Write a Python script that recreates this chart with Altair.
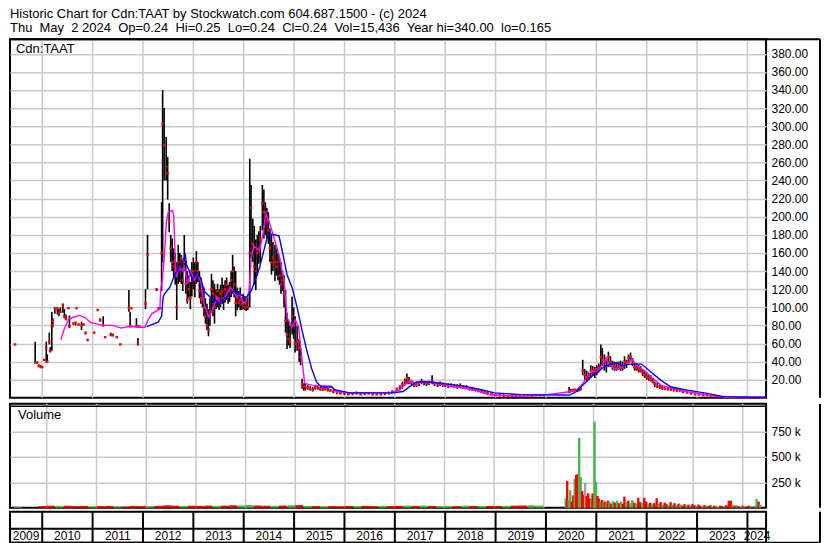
import altair as alt
import pandas as pd

HEADER = [
    "Historic Chart for Cdn:TAAT by Stockwatch.com 604.687.1500 - (c) 2024",
    "Thu  May  2 2024  Op=0.24  Hi=0.25  Lo=0.24  Cl=0.24  Vol=15,436  Year hi=340.00  lo=0.165",
]
SYMBOL = "Cdn:TAAT"
VOL_LABEL = "Volume"

YEAR_LINES = [2010, 2011, 2012, 2013, 2014, 2015, 2016, 2017, 2018, 2019, 2020, 2021, 2022, 2023, 2024]
YEAR_LABELS = ["2009", "2010", "2011", "2012", "2013", "2014", "2015", "2016", "2017", "2018",
               "2019", "2020", "2021", "2022", "2023", "2024"]
YEAR_LABEL_POS = [2009.68, 2010.5, 2011.5, 2012.5, 2013.5, 2014.5, 2015.5, 2016.5, 2017.5, 2018.5,
                  2019.5, 2020.5, 2021.5, 2022.5, 2023.5, 2024.19]
PRICE_TICKS = [20, 40, 60, 80, 100, 120, 140, 160, 180, 200, 220, 240, 260, 280, 300, 320, 340, 360, 380]
VOL_TICKS = [250000, 500000, 750000]

# (year, high, low, close)
bars_2009_2011 = [
    (2009.46, 59, 59, 59), (2009.86, 62, 39, 39), (2009.90, 40, 38, 39), (2009.93, 37, 35, 35),
    (2009.97, 36, 33, 34), (2010.00, 35, 33, 34), (2010.04, 43, 41, 42), (2010.08, 62, 39, 55),
    (2010.10, 48, 40, 40), (2010.14, 72, 59, 62), (2010.16, 56, 50, 52), (2010.19, 95, 52, 80),
    (2010.21, 88, 78, 85), (2010.25, 99, 93, 99), (2010.30, 98, 92, 99), (2010.33, 98, 90, 93),
    (2010.36, 100, 94, 95), (2010.41, 103, 94, 103), (2010.44, 98, 88, 90), (2010.47, 92, 86, 87),
    (2010.52, 99, 99, 99), (2010.54, 91, 77, 79), (2010.62, 83, 81, 82), (2010.66, 84, 80, 83),
    (2010.68, 99, 99, 99), (2010.72, 82, 80, 81), (2010.78, 84, 75, 80), (2010.82, 82, 80, 81),
    (2010.86, 72, 70, 72), (2010.90, 65, 63, 64), (2011.03, 72, 71, 72), (2011.10, 97, 97, 97),
    (2011.15, 88, 84, 86), (2011.21, 90, 79, 80), (2011.25, 67, 66, 67), (2011.36, 72, 68, 70),
    (2011.40, 71, 69, 69), (2011.48, 67, 66, 67), (2011.55, 59, 59, 59), (2011.72, 119, 95, 99),
    (2011.745, 95, 79, 79), (2011.77, 99, 99, 99), (2011.87, 88, 79, 79), (2011.90, 66, 59, 59),
    (2011.93, 79, 79, 79), (2012.05, 120, 98, 104), (2012.09, 180, 120, 158), (2012.27, 120, 118, 120),
    (2012.31, 99, 99, 99), (2012.34, 100, 98, 99),
]
bars_2012_2015 = [
    (2012.37, 216, 118, 160), (2012.39, 340, 150, 303), (2012.42, 320, 240, 279), (2012.46, 288, 240, 255),
    (2012.49, 266, 219, 248), (2012.52, 215, 183, 195), (2012.55, 180, 150, 165), (2012.58, 176, 140, 150),
    (2012.61, 165, 133, 145), (2012.64, 160, 125, 140), (2012.67, 150, 86, 100), (2012.70, 169, 126, 150),
    (2012.73, 160, 128, 145), (2012.76, 158, 126, 154), (2012.79, 150, 118, 130), (2012.82, 180, 140, 150),
    (2012.85, 151, 115, 126), (2012.88, 140, 104, 108), (2012.91, 135, 110, 120), (2012.94, 128, 98, 110),
    (2012.97, 150, 112, 135), (2013.00, 155, 120, 140), (2013.03, 150, 111, 130), (2013.06, 162, 126, 150),
    (2013.09, 150, 128, 140), (2013.12, 140, 110, 118), (2013.15, 132, 104, 110), (2013.18, 125, 100, 108),
    (2013.21, 122, 90, 100), (2013.24, 110, 82, 90), (2013.27, 104, 75, 80), (2013.30, 98, 68, 75),
    (2013.33, 110, 80, 95), (2013.36, 137, 95, 120), (2013.39, 130, 90, 115), (2013.42, 126, 82, 100),
    (2013.45, 120, 98, 112), (2013.48, 126, 100, 118), (2013.51, 120, 97, 110), (2013.54, 125, 100, 115),
    (2013.57, 133, 104, 118), (2013.60, 125, 97, 110), (2013.63, 130, 105, 120), (2013.66, 133, 108, 125),
    (2013.69, 125, 104, 112), (2013.72, 128, 106, 118), (2013.75, 140, 111, 130), (2013.78, 158, 115, 140),
    (2013.81, 145, 111, 125), (2013.84, 140, 90, 105), (2013.87, 122, 97, 110), (2013.90, 118, 100, 105),
    (2013.93, 122, 97, 108), (2013.96, 111, 97, 103), (2013.99, 115, 98, 105), (2014.02, 111, 97, 100),
    (2014.05, 110, 96, 104), (2014.08, 112, 97, 100), (2014.12, 264, 100, 160), (2014.145, 235, 155, 210),
    (2014.18, 198, 150, 170), (2014.21, 190, 125, 145), (2014.24, 175, 119, 140), (2014.27, 180, 135, 160),
    (2014.30, 184, 148, 165), (2014.33, 190, 150, 175), (2014.37, 235, 185, 215), (2014.40, 230, 176, 205),
    (2014.43, 216, 180, 205), (2014.46, 210, 176, 195), (2014.49, 205, 170, 185), (2014.52, 187, 150, 165),
    (2014.55, 180, 136, 150), (2014.58, 172, 140, 155), (2014.62, 169, 129, 150), (2014.65, 165, 135, 145),
    (2014.68, 160, 130, 150), (2014.71, 155, 125, 135), (2014.74, 150, 115, 125), (2014.77, 140, 118, 130),
    (2014.80, 135, 100, 115), (2014.83, 119, 72, 85), (2014.86, 94, 54, 70), (2014.89, 85, 58, 65),
    (2014.92, 80, 55, 62), (2014.96, 112, 70, 90), (2014.99, 100, 65, 80), (2015.02, 90, 50, 60),
    (2015.06, 80, 52, 62), (2015.10, 65, 40, 55), (2015.13, 55, 36, 45), (2015.16, 21, 10, 15),
    (2015.19, 16, 8, 12),
]
bars_2015_2019 = [
    (2015.22, 16, 8, 12), (2015.27, 14, 9, 11), (2015.32, 13, 8, 10), (2015.37, 12, 7, 9),
    (2015.42, 14, 9, 12), (2015.47, 13, 9, 11), (2015.52, 12, 8, 10), (2015.57, 11, 8, 9),
    (2015.62, 12, 8, 10), (2015.67, 11, 7, 9), (2015.72, 10, 7, 8), (2015.78, 9, 5, 7),
    (2015.85, 8, 4, 6), (2015.92, 7, 4, 5), (2016.00, 7, 3, 5), (2016.08, 6, 3, 4),
    (2016.16, 6, 3, 5), (2016.24, 7, 4, 5), (2016.32, 6, 3, 4), (2016.40, 6, 3, 5),
    (2016.48, 6, 4, 5), (2016.56, 6, 3, 4), (2016.64, 5, 3, 4), (2016.72, 6, 3, 4),
    (2016.80, 6, 3, 5), (2016.88, 7, 4, 5), (2016.95, 8, 5, 7), (2017.04, 11, 7, 10),
    (2017.10, 14, 8, 12), (2017.15, 18, 10, 15), (2017.20, 21, 14, 18), (2017.24, 27, 15, 22),
    (2017.28, 23, 15, 19), (2017.33, 20, 14, 17), (2017.38, 17, 12, 14), (2017.43, 17, 12, 15),
    (2017.48, 18, 13, 16), (2017.53, 21, 15, 18), (2017.58, 19, 14, 17), (2017.63, 18, 13, 16),
    (2017.68, 19, 14, 17), (2017.74, 25, 15, 19), (2017.79, 18, 13, 16), (2017.85, 17, 12, 15),
    (2017.90, 18, 13, 16), (2017.95, 17, 12, 15), (2018.00, 16, 12, 14), (2018.06, 16, 11, 14),
    (2018.12, 16, 12, 14), (2018.18, 15, 11, 13), (2018.24, 15, 10, 13), (2018.30, 16, 11, 13),
    (2018.36, 14, 10, 12), (2018.42, 14, 10, 12), (2018.48, 12, 8, 10), (2018.54, 12, 8, 9),
    (2018.60, 11, 7, 9), (2018.66, 10, 6, 8), (2018.72, 9, 6, 7), (2018.78, 8, 5, 6),
    (2018.84, 7, 4, 5), (2018.92, 6, 3, 4), (2019.00, 5, 2, 3), (2019.08, 4, 2, 3),
    (2019.16, 4, 1, 2), (2019.24, 3, 1, 2), (2019.32, 4, 1, 2), (2019.40, 3, 1, 2),
    (2019.48, 4, 2, 3), (2019.56, 3, 2, 3), (2019.64, 4, 2, 3), (2019.72, 3, 2, 2),
    (2019.80, 4, 2, 3), (2019.88, 3, 2, 3), (2019.96, 4, 2, 3),
]
bars_2020_2024 = [
    (2020.46, 12, 5, 8), (2020.49, 10, 6, 8), (2020.53, 10, 7, 8), (2020.57, 10, 7, 9),
    (2020.61, 9, 7, 8), (2020.65, 10, 7, 9), (2020.69, 11, 8, 10), (2020.73, 42, 25, 30),
    (2020.77, 32, 20, 25), (2020.81, 30, 18, 22), (2020.85, 28, 20, 24), (2020.89, 36, 22, 30),
    (2020.93, 35, 24, 28), (2020.97, 34, 22, 30), (2021.01, 36, 25, 32), (2021.05, 38, 28, 33),
    (2021.09, 59, 32, 45), (2021.12, 55, 35, 42), (2021.16, 48, 30, 40), (2021.20, 44, 28, 35),
    (2021.24, 51, 34, 45), (2021.28, 46, 34, 40), (2021.32, 41, 31, 36), (2021.36, 40, 30, 35),
    (2021.40, 39, 30, 33), (2021.44, 40, 31, 35), (2021.48, 41, 30, 34), (2021.52, 40, 30, 33),
    (2021.56, 46, 32, 40), (2021.60, 42, 33, 38), (2021.64, 48, 38, 44), (2021.68, 50, 40, 45),
    (2021.72, 44, 35, 38), (2021.76, 39, 30, 34), (2021.80, 38, 30, 33), (2021.84, 37, 28, 32),
    (2021.88, 35, 28, 30), (2021.92, 32, 24, 28), (2021.96, 30, 22, 25), (2022.00, 28, 20, 23),
    (2022.04, 26, 19, 22), (2022.08, 25, 18, 20), (2022.12, 22, 16, 18), (2022.16, 18, 12, 15),
    (2022.21, 17, 11, 13), (2022.26, 15, 10, 12), (2022.31, 14, 9, 11), (2022.36, 13, 9, 10),
    (2022.42, 12, 8, 10), (2022.48, 12, 8, 9), (2022.54, 11, 7, 9), (2022.60, 11, 7, 8),
    (2022.66, 10, 7, 8), (2022.72, 9, 5, 7), (2022.80, 8, 5, 6), (2022.88, 7, 4, 5),
    (2022.96, 6, 3, 4), (2023.04, 5, 3, 4), (2023.12, 5, 2, 3), (2023.20, 4, 2, 3),
    (2023.28, 3, 1.5, 2), (2023.36, 3, 1.5, 2), (2023.44, 2.5, 1, 1.5), (2023.55, 1.5, 0.5, 1),
    (2023.65, 1, 0.5, 0.8), (2023.75, 1, 0.4, 0.6), (2023.85, 0.8, 0.3, 0.5), (2023.95, 0.6, 0.3, 0.4),
    (2024.05, 0.5, 0.2, 0.3), (2024.15, 0.4, 0.2, 0.3), (2024.25, 0.4, 0.2, 0.25), (2024.33, 0.25, 0.24, 0.24),
]

# short moving average (magenta): (year, value)
ma_short = [
    (2010.37, 64), (2010.43, 75), (2010.525, 87), (2010.62, 89), (2010.74, 91), (2010.84, 89),
    (2010.97, 83), (2011.21, 80), (2011.40, 80), (2011.56, 77), (2011.75, 79), (2011.89, 78),
    (2012.04, 78), (2012.10, 86), (2012.18, 93), (2012.335, 98), (2012.355, 121), (2012.38, 128),
    (2012.42, 153), (2012.465, 194), (2012.50, 205), (2012.59, 207), (2012.61, 201), (2012.64, 153),
    (2012.66, 133), (2012.69, 140), (2012.74, 143), (2012.79, 140), (2012.82, 145), (2012.885, 126),
    (2012.95, 140), (2013.015, 131), (2013.08, 136), (2013.145, 129), (2013.21, 104), (2013.31, 89),
    (2013.37, 96), (2013.47, 111), (2013.535, 104), (2013.63, 111), (2013.73, 122), (2013.79, 118),
    (2013.86, 111), (2013.92, 115), (2013.99, 104), (2014.05, 107), (2014.105, 118), (2014.15, 155),
    (2014.20, 168), (2014.31, 162), (2014.38, 180), (2014.44, 203), (2014.51, 194), (2014.605, 176),
    (2014.70, 158), (2014.80, 129), (2014.86, 89), (2014.96, 78), (2015.025, 86), (2015.09, 78),
    (2015.155, 43), (2015.21, 16), (2015.35, 14), (2015.74, 13), (2015.84, 7), (2016.13, 5.5),
    (2016.91, 5.5), (2017.10, 9), (2017.23, 16), (2017.33, 19), (2017.43, 14), (2017.52, 17.5),
    (2017.685, 17.5), (2017.815, 16), (2018.20, 12), (2018.59, 9), (2018.85, 3.6), (2019.50, 1.8),
    (2020.02, 3.6), (2020.47, 6.7), (2020.60, 8.5), (2020.73, 15.7), (2020.83, 24.6), (2020.92, 30),
    (2020.99, 28), (2021.09, 33.7), (2021.19, 44.5), (2021.25, 37.3), (2021.38, 31.9), (2021.51, 33.7),
    (2021.61, 37.3), (2021.705, 42.7), (2021.80, 35.5), (2021.96, 30), (2022.095, 22.8), (2022.29, 13.8),
    (2022.55, 10), (2022.81, 6.7), (2023.20, 3), (2023.59, 0.6), (2024.36, 0.2),
]
# long moving average (blue): (year, value)
ma_long = [
    (2012.075, 78.7), (2012.30, 83.5), (2012.37, 90), (2012.40, 111), (2012.43, 115), (2012.53, 122),
    (2012.63, 136), (2012.76, 147), (2012.84, 158), (2012.865, 147), (2012.92, 140), (2012.98, 131),
    (2013.05, 136), (2013.145, 133), (2013.21, 118), (2013.34, 111), (2013.535, 104), (2013.60, 109),
    (2013.70, 113), (2013.79, 118), (2014.05, 111), (2014.15, 118), (2014.245, 133), (2014.31, 143),
    (2014.41, 165), (2014.475, 179), (2014.54, 181), (2014.70, 179), (2014.77, 161), (2014.86, 136),
    (2014.96, 122), (2015.06, 100), (2015.155, 75), (2015.25, 53), (2015.35, 32), (2015.45, 17),
    (2015.545, 12), (2015.74, 12), (2015.80, 9), (2016.10, 5.5), (2016.96, 5.5), (2017.165, 7),
    (2017.30, 12.7), (2017.43, 17.5), (2017.685, 17.5), (2017.94, 16), (2018.40, 12.7), (2018.72, 9),
    (2018.98, 5.5), (2019.50, 3.6), (2020.34, 3.2), (2020.47, 3), (2020.60, 6.7), (2020.73, 14),
    (2020.925, 24.6), (2021.19, 35.5), (2021.41, 39), (2021.51, 35.5), (2021.67, 37.3), (2021.90, 37.3),
    (2022.095, 28), (2022.29, 19), (2022.485, 12), (2022.81, 8.5), (2023.20, 4.9), (2023.52, 1.3),
    (2024.36, 0.4),
]

# volume in thousands: (year, volume_k, colour code r=down g=up k=unchanged)
vol_2009_2019 = [
    (2009.42, 10, "g"), (2009.92, 16, "r"), (2010.08, 20, "r"), (2010.25, 18, "g"), (2010.42, 20, "r"),
    (2010.58, 16, "r"), (2010.75, 18, "r"), (2010.92, 14, "g"), (2011.08, 16, "r"), (2011.25, 18, "r"),
    (2011.42, 14, "g"), (2011.58, 12, "r"), (2011.75, 18, "r"), (2011.92, 16, "r"), (2012.08, 14, "g"),
    (2012.25, 18, "r"), (2012.42, 24, "r"), (2012.58, 20, "r"), (2012.75, 18, "g"), (2012.92, 20, "r"),
    (2013.08, 18, "r"), (2013.25, 21, "r"), (2013.42, 18, "g"), (2013.58, 20, "r"), (2013.75, 24, "r"),
    (2013.92, 22, "g"), (2014.08, 26, "g"), (2014.25, 22, "r"), (2014.42, 20, "r"), (2014.58, 18, "g"),
    (2014.75, 21, "r"), (2014.92, 24, "g"), (2015.08, 26, "r"), (2015.25, 18, "g"), (2015.42, 16, "r"),
    (2015.58, 14, "g"), (2015.75, 16, "r"), (2015.92, 14, "r"), (2016.08, 18, "r"), (2016.25, 16, "g"),
    (2016.42, 18, "r"), (2016.58, 16, "r"), (2016.75, 18, "g"), (2016.92, 16, "r"), (2017.08, 18, "r"),
    (2017.25, 20, "g"), (2017.42, 18, "r"), (2017.58, 21, "g"), (2017.75, 18, "r"), (2017.92, 16, "g"),
    (2018.08, 18, "g"), (2018.25, 16, "r"), (2018.42, 20, "g"), (2018.58, 18, "r"), (2018.75, 16, "g"),
    (2018.92, 18, "r"), (2019.08, 16, "r"), (2019.25, 18, "g"), (2019.42, 20, "r"), (2019.58, 22, "r"),
    (2019.75, 24, "g"), (2019.92, 20, "g"),
]
vol_2020_2024 = [
    (2020.44, 92, "g"), (2020.47, 262, "r"), (2020.50, 75, "g"), (2020.53, 171, "g"), (2020.56, 60, "r"),
    (2020.59, 122, "r"), (2020.62, 285, "g"), (2020.65, 323, "r"), (2020.68, 330, "r"), (2020.71, 686, "g"),
    (2020.74, 301, "g"), (2020.77, 163, "r"), (2020.80, 125, "r"), (2020.83, 244, "k"), (2020.86, 115, "r"),
    (2020.89, 141, "r"), (2020.92, 92, "r"), (2020.95, 80, "g"), (2020.98, 140, "r"), (2021.02, 846, "g"),
    (2021.05, 253, "g"), (2021.08, 115, "r"), (2021.11, 90, "r"), (2021.14, 60, "g"), (2021.17, 75, "r"),
    (2021.20, 55, "g"), (2021.23, 60, "r"), (2021.26, 45, "g"), (2021.29, 70, "r"), (2021.32, 55, "g"),
    (2021.35, 40, "r"), (2021.39, 65, "g"), (2021.43, 50, "r"), (2021.47, 70, "g"), (2021.51, 45, "r"),
    (2021.55, 60, "g"), (2021.59, 40, "r"), (2021.62, 109, "r"), (2021.66, 55, "g"), (2021.70, 70, "r"),
    (2021.74, 45, "g"), (2021.78, 75, "g"), (2021.82, 50, "r"), (2021.86, 40, "g"), (2021.90, 97, "r"),
    (2021.94, 55, "r"), (2021.98, 45, "g"), (2022.02, 98, "r"), (2022.06, 60, "r"), (2022.10, 40, "g"),
    (2022.14, 50, "r"), (2022.18, 35, "g"), (2022.22, 45, "r"), (2022.27, 92, "r"), (2022.31, 40, "g"),
    (2022.35, 55, "r"), (2022.39, 30, "g"), (2022.43, 50, "r"), (2022.47, 35, "r"), (2022.51, 25, "g"),
    (2022.55, 55, "r"), (2022.59, 30, "g"), (2022.63, 45, "r"), (2022.67, 25, "g"), (2022.71, 40, "r"),
    (2022.75, 30, "g"), (2022.79, 20, "r"), (2022.83, 35, "r"), (2022.87, 25, "g"), (2022.91, 30, "r"),
    (2022.95, 20, "g"), (2022.99, 35, "r"), (2023.03, 25, "r"), (2023.07, 15, "g"), (2023.11, 30, "r"),
    (2023.15, 20, "r"), (2023.19, 15, "k"), (2023.23, 25, "r"), (2023.27, 20, "g"), (2023.31, 15, "r"),
    (2023.35, 25, "r"), (2023.39, 12, "k"), (2023.43, 20, "r"), (2023.47, 15, "g"), (2023.51, 10, "k"),
    (2023.55, 20, "r"), (2023.59, 15, "r"), (2023.63, 10, "g"), (2023.67, 25, "r"), (2023.72, 67, "r"),
    (2023.76, 70, "r"), (2023.80, 30, "g"), (2023.84, 20, "r"), (2023.88, 25, "g"), (2023.92, 15, "r"),
    (2023.96, 10, "k"), (2024.00, 20, "r"), (2024.04, 15, "g"), (2024.08, 12, "r"), (2024.12, 20, "r"),
    (2024.16, 15, "g"), (2024.20, 10, "r"), (2024.24, 20, "g"), (2024.28, 86, "g"), (2024.32, 60, "r"),
    (2024.35, 30, "g"),
]

# ---------------------------------------------------------------- layout / style
W, HP, HV, HS = 757, 359, 104, 31
RIGHT = W + 54
FONT = "Liberation Sans"
GRID = "#cacaca"

price_df = pd.DataFrame(bars_2009_2011 + bars_2012_2015 + bars_2015_2019 + bars_2020_2024,
                        columns=["yr", "hi", "lo", "cl"])
mas_df = pd.DataFrame(ma_short, columns=["yr", "v"])
mal_df = pd.DataFrame(ma_long, columns=["yr", "v"])
ve_df = pd.DataFrame(vol_2009_2019, columns=["yr", "k", "c"])
ve_df["vol"] = ve_df["k"] * 1000
vl_df = pd.DataFrame(vol_2020_2024, columns=["yr", "k", "c"])
vl_df["vol"] = vl_df["k"] * 1000
years_df = pd.DataFrame({"yr": YEAR_LINES})
one = pd.DataFrame({"d": [0]})

xs = alt.Scale(domain=[2009.36, 2024.37], nice=False, zero=False)
NOAX = dict(axis=None)


def vgrid(h):
    return alt.Chart(years_df).mark_rule(color=GRID, strokeWidth=1.5).encode(
        x=alt.X("yr:Q", scale=xs, axis=None), y=alt.value(0), y2=alt.value(h))


# ---------------------------------------------------------------- price panel
price_axis = alt.Axis(orient="right", values=PRICE_TICKS, tickCount=40, format=".2f", grid=True,
                      gridColor=GRID, gridWidth=1.5, ticks=False, domain=False, labelPadding=5,
                      title=None, labelOverlap=False, labelFont=FONT, labelFontSize=12,
                      labelColor="black")
pys = alt.Scale(domain=[0, 396], nice=False)
p_rules = alt.Chart(price_df).mark_rule(color="#000000", strokeWidth=1.6).encode(
    x=alt.X("yr:Q", scale=xs, axis=None),
    y=alt.Y("lo:Q", scale=pys, axis=price_axis), y2="hi:Q")
p_close = alt.Chart(price_df).mark_square(color="#ff0000", size=6, opacity=1).encode(
    x=alt.X("yr:Q", axis=None), y=alt.Y("cl:Q", title=None))
p_mas = alt.Chart(mas_df).mark_line(color="#ff00ff", strokeWidth=1.4).encode(
    x=alt.X("yr:Q", axis=None), y=alt.Y("v:Q", title=None))
p_mal = alt.Chart(mal_df).mark_line(color="#0000ff", strokeWidth=1.4).encode(
    x=alt.X("yr:Q", axis=None), y=alt.Y("v:Q", title=None))
p_label = alt.Chart(one).mark_text(align="left", baseline="top", font=FONT, fontSize=13,
                                    color="black", text=SYMBOL).encode(x=alt.value(6), y=alt.value(4))
p_frame_r = alt.Chart(one).mark_rule(color="black", strokeWidth=2).encode(
    x=alt.value(RIGHT), y=alt.value(0), y2=alt.value(HP))
p_frame_t = alt.Chart(one).mark_rule(color="black", strokeWidth=2).encode(
    x=alt.value(0), x2=alt.value(RIGHT), y=alt.value(0))
price = alt.layer(vgrid(HP), p_rules, p_close, p_mas, p_mal, p_label,
                  p_frame_r, p_frame_t).properties(width=W, height=HP)

# ---------------------------------------------------------------- volume panel
vol_axis = alt.Axis(orient="right", values=VOL_TICKS, tickCount=10,
                    labelExpr="datum.value / 1000 + ' k'",
                    grid=True, gridColor=GRID, gridWidth=1.5, ticks=False, domain=False,
                    labelPadding=5, title=None, labelOverlap=False, labelFont=FONT,
                    labelFontSize=12, labelColor="black")
vcolor = alt.Color("c:N", scale=alt.Scale(domain=["r", "g", "k"],
                                          range=["#ff0000", "#4db34d", "#a0a0a0"]), legend=None)
v_early = alt.Chart(ve_df).mark_bar(size=8).encode(
    x=alt.X("yr:Q", scale=xs, axis=None),
    y=alt.Y("vol:Q", scale=alt.Scale(domain=[0, 1020000], nice=False), axis=vol_axis),
    color=vcolor)
v_late = alt.Chart(vl_df).mark_bar(size=2.4).encode(
    x=alt.X("yr:Q", axis=None), y=alt.Y("vol:Q", title=None), color=vcolor)
v_label = alt.Chart(one).mark_text(align="left", baseline="top", font=FONT, fontSize=13,
                                    color="black", text=VOL_LABEL).encode(x=alt.value(8), y=alt.value(5))
v_top2 = alt.Chart(one).mark_rule(color="black", strokeWidth=1.5).encode(
    x=alt.value(0), x2=alt.value(W), y=alt.value(2.5))
v_frame_r = alt.Chart(one).mark_rule(color="black", strokeWidth=2).encode(
    x=alt.value(RIGHT), y=alt.value(0), y2=alt.value(HV))
volume = alt.layer(vgrid(HV), v_early, v_late, v_label, v_top2, v_frame_r).properties(
    width=W, height=HV)

# ---------------------------------------------------------------- year strip
s_lines = alt.Chart(years_df).mark_rule(color="black", strokeWidth=2).encode(
    x=alt.X("yr:Q", scale=xs, axis=None), y=alt.value(0), y2=alt.value(HS))
s_mid = alt.Chart(one).mark_rule(color="black", strokeWidth=2).encode(
    x=alt.value(0), x2=alt.value(W), y=alt.value(17))
s_text = alt.Chart(pd.DataFrame({"pos": YEAR_LABEL_POS, "lab": YEAR_LABELS})).mark_text(
    font=FONT, fontSize=12, color="black", baseline="middle").encode(
    x=alt.X("pos:Q", axis=None), y=alt.value(24.5), text="lab:N")
s_frame_b = alt.Chart(one).mark_rule(color="black", strokeWidth=2).encode(
    x=alt.value(0), x2=alt.value(RIGHT), y=alt.value(HS))
s_frame_r = alt.Chart(one).mark_rule(color="black", strokeWidth=2).encode(
    x=alt.value(RIGHT), y=alt.value(0), y2=alt.value(HS))
strip = alt.layer(s_lines, s_mid, s_text, s_frame_b, s_frame_r).properties(width=W, height=HS)

title_lines = [t.replace("  ", "\u00a0 ") for t in HEADER]
chart = alt.vconcat(
    price, volume, strip,
    spacing=0,
    title=alt.TitleParams(text=title_lines, anchor="start", font=FONT, fontSize=13,
                          fontWeight="normal", color="black", lineHeight=14, offset=2, dx=2),
).properties(padding=0, background="white").configure_view(stroke="black", strokeWidth=2)

chart.save("out.html", embed_options={"renderer": "svg", "actions": False})
